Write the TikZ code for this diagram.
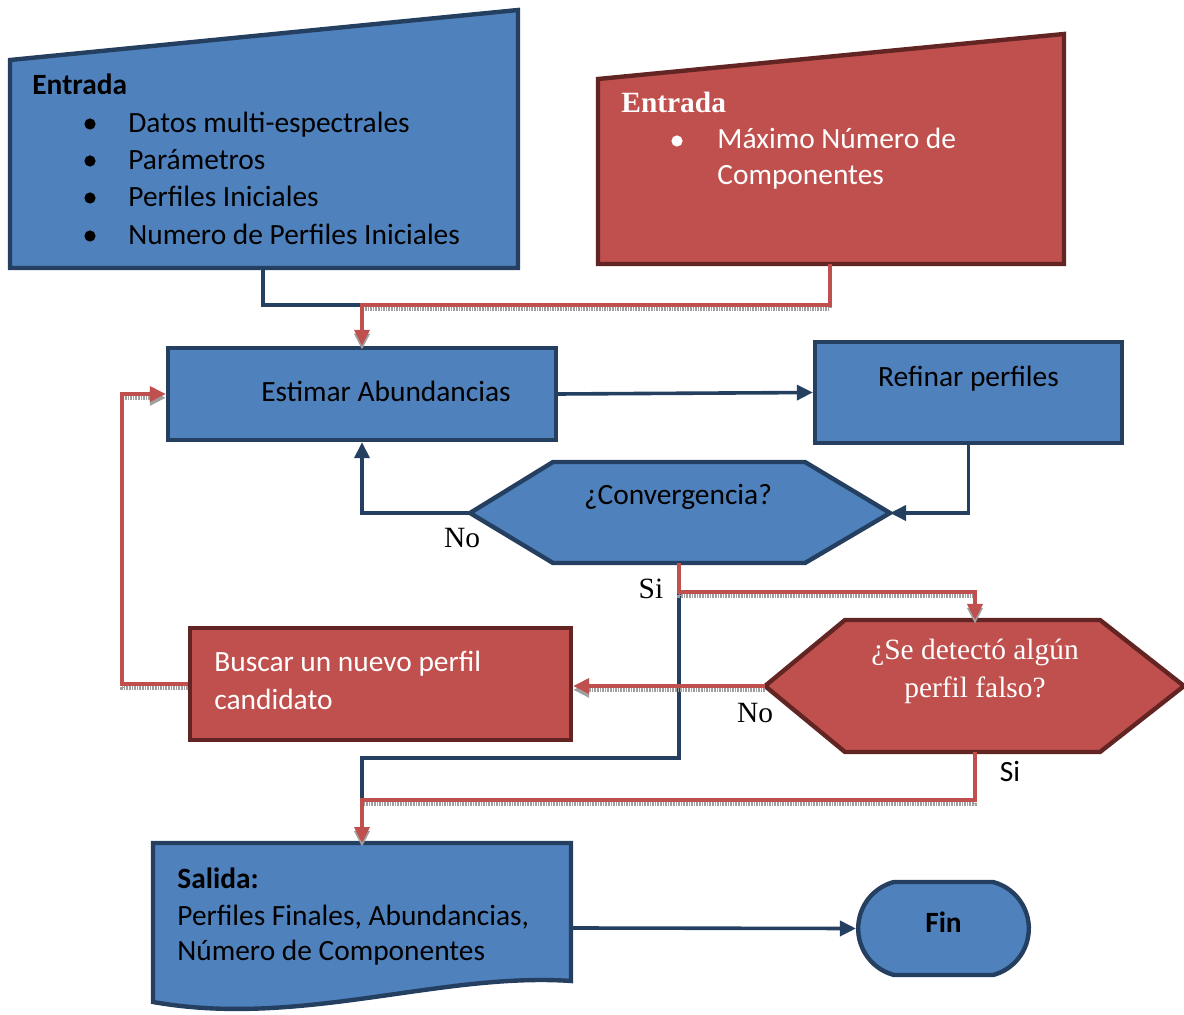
\documentclass[tikz,border=0pt]{standalone}
\usepackage{fontspec}
\setmainfont{Carlito}
\newfontfamily\timesfont{Liberation Serif}
\usetikzlibrary{arrows.meta,shapes.misc}
\definecolor{bluefill}{HTML}{4F81BD}
\definecolor{blueline}{HTML}{243F60}
\definecolor{redfill}{HTML}{C0504D}
\definecolor{redline}{HTML}{632523}
\tikzset{
  bluebox/.style={draw=blueline, fill=bluefill, line width=2.2pt},
  redbox/.style={draw=redline, fill=redfill, line width=2.2pt},
  boxtext/.style={text height=11pt, text depth=3pt},
  textline/.style={anchor=base west, inner sep=0pt},
  serifline/.style={textline, font=\timesfont\fontsize{14.7}{18.7}\selectfont},
  answer/.style={anchor=base, inner sep=0pt},
  bulletdot/.style={circle, fill=black, inner sep=0pt, minimum size=5.6pt},
  blueflow/.style={draw=blueline, line width=1.8pt},
  redflow/.style={draw=redfill, line width=1.8pt,
    preaction={draw=gray!75, line width=2pt, dash pattern=on 0.8pt off 0.5pt, transform canvas={yshift=-1.9pt}}},
  tip/.style={-{Triangle[length=8pt,width=7.5pt]}}
}
\begin{document}
\begin{tikzpicture}[x=0.5pt,y=-0.5pt,font=\fontsize{14.7}{18.7}\selectfont]
  \useasboundingbox (0,0) rectangle (1184,1015);

  % entradas
  \draw[bluebox] (10,60) -- (518,10) -- (518,268) -- (10,268) -- cycle;
  \coordinate (in1S) at (263,268);
  \node[textline] (in1title) at (32,95) {\textbf{Entrada}};
  \foreach \y in {124,161,198,236}
    \node[bulletdot] (dot\y) at (90,\y) {};
  \node[textline] (datos) at (128,133) {Datos multi-espectrales};
  \node[textline] (param) at (128,170) {Parámetros};
  \node[textline] (perfini) at (128,207) {Perfiles Iniciales};
  \node[textline] (numini) at (128,245) {Numero de Perfiles Iniciales};

  \draw[redbox] (598,79) -- (1064,34) -- (1064,264) -- (598,264) -- cycle;
  \coordinate (in2S) at (830,264);
  \node[serifline, text=white, font=\timesfont\fontsize{14.7}{18.7}\selectfont\bfseries] (in2title) at (621,113) {Entrada};
  \node[bulletdot, fill=white] (dotmax) at (677,141) {};
  \node[textline, text=white] (maxnum) at (717,149) {Máximo Número de};
  \node[textline, text=white] (maxcomp) at (717,185) {Componentes};

  % proceso
  \node[bluebox, boxtext, minimum width=194pt, minimum height=46pt] (estimar) at (362,394)
    {\hspace*{24pt}Estimar Abundancias};
  \node[bluebox, boxtext, text depth=17pt, minimum width=153.5pt, minimum height=50.5pt] (refinar) at (968.5,392.5)
    {Refinar perfiles};

  \coordinate (convW) at (470,513);
  \coordinate (convE) at (890,513);
  \coordinate (convS) at (679,563);
  \draw[bluebox] (convW) -- (553,462) -- (805,462) -- (convE) -- (805,563) -- (553,563) -- cycle;
  \node[answer] (convtext) at (678,505) {¿Convergencia?};

  \coordinate (detW) at (765,686);
  \coordinate (detN) at (975,620);
  \coordinate (detS) at (975,752);
  \draw[redbox] (detW) -- (845,620) -- (1100,620) -- (1184,686) -- (1100,752) -- (845,752) -- cycle;
  \node[answer, text=white, font=\timesfont\fontsize{14.7}{18.7}\selectfont] (dettop) at (975,660) {¿Se detectó algún};
  \node[answer, text=white, font=\timesfont\fontsize{14.7}{18.7}\selectfont] (detbot) at (975,698) {perfil falso?};

  \node[redbox, minimum width=190.5pt, minimum height=56pt] (buscar) at (380.5,684) {};
  \node[textline, text=white] (buscarA) at (214,672) {Buscar un nuevo perfil};
  \node[textline, text=white] (buscarB) at (214,710) {candidato};

  % salida
  \coordinate (salidaN) at (362,843);
  \coordinate (salidaE) at (571,928);
  \draw[bluebox] (153,843) -- (571,843) -- (571,981)
    .. controls (440,972) and (300,1028) .. (153,1002) -- cycle;
  \node[textline] (saltitle) at (177,888) {\textbf{Salida:}};
  \node[textline] (salperf) at (177,925) {Perfiles Finales, Abundancias,};
  \node[textline] (salcomp) at (177,960) {Número de Componentes};

  \node[bluebox, rounded rectangle, rounded rectangle arc length=150, text height=11pt, text depth=7.5pt,
    minimum width=92pt, minimum height=46.5pt] (fin) at (943.5,928.5)
    {\textbf{Fin}};

  % conectores
  \coordinate (joinA) at (362,305);
  \coordinate (siA) at (679,592);
  \coordinate (bendB) at (362,758);
  \coordinate (joinB) at (362,800);
  \coordinate (loopC) at (122,394);
  \draw[blueflow] (in1S) |- (joinA);
  \draw[redflow, tip] (in2S) |- (joinA) -- (estimar.north);
  \draw[blueflow, tip] (estimar.east) -- (refinar.west);
  \draw[blueflow, tip] (refinar.south) |- (convE);
  \draw[blueflow, tip] (convW) -| (estimar.south);
  \draw[blueflow] (siA) |- (bendB) -- (joinB);
  \draw[redflow, tip] (convS) -- (siA) -| (detN);
  \draw[redflow, tip] (detW) -- (detW -| buscar.east);
  \draw[redflow, tip] (buscar.west) -| (loopC) -- (estimar.west);
  \draw[redflow, tip] (detS) |- (joinB) -- (salidaN);
  \draw[blueflow, tip] (salidaE) -- (fin.west);

  % etiquetas
  \node[answer, font=\timesfont\fontsize{14.7}{18.7}\selectfont] (noA) at (462,548) {No};
  \node[answer, font=\timesfont\fontsize{14.7}{18.7}\selectfont] (siLabA) at (651,599) {Si};
  \node[answer, font=\timesfont\fontsize{14.7}{18.7}\selectfont] (noB) at (755,723) {No};
  \node[answer] (siLabB) at (1010,782) {Si};
\end{tikzpicture}
\end{document}
